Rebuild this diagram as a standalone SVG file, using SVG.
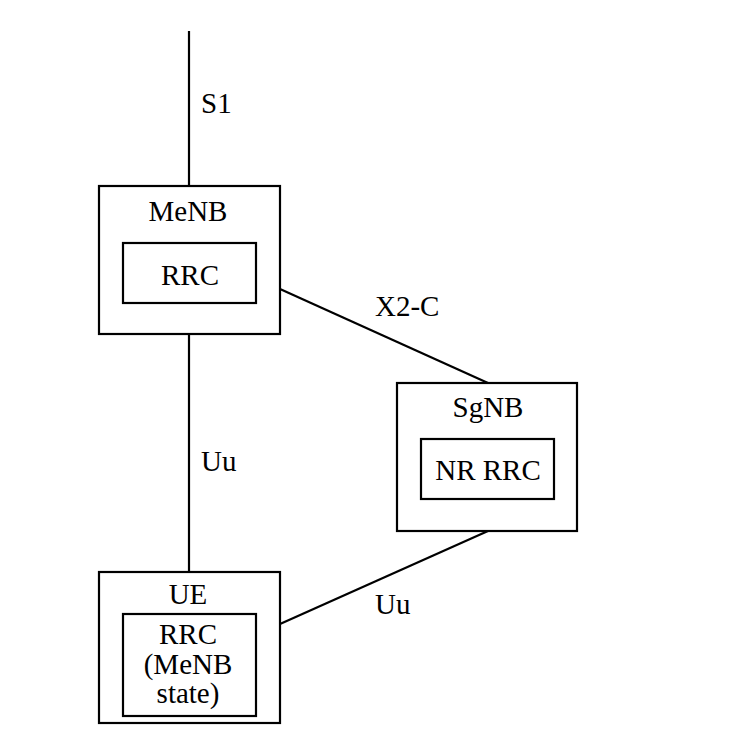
<svg xmlns="http://www.w3.org/2000/svg" width="733" height="746" viewBox="0 0 733 746">
<style>
.box{fill:none;stroke:#000;stroke-width:2.2}
.ln{stroke:#000;stroke-width:2.2;fill:none}
text{font-family:"Liberation Serif","Times New Roman",serif;font-size:29px;fill:#000}
.c{text-anchor:middle}
</style>
<rect width="733" height="746" fill="#fff"/>
<g id="connectors">
<line class="ln" x1="189" y1="31" x2="189" y2="186"/>
<line class="ln" x1="189" y1="334" x2="189" y2="572"/>
<line class="ln" x1="280" y1="289" x2="488" y2="383"/>
<line class="ln" x1="488" y1="531" x2="280" y2="624"/>
<text x="201" y="113">S1</text>
<text x="375" y="316">X2-C</text>
<text x="201" y="471">Uu</text>
<text x="375" y="614">Uu</text>
</g>
<g id="MeNB">
<rect class="box" x="99" y="186" width="181" height="148"/>
<text class="c" x="188" y="221">MeNB</text>
<rect class="box" x="123" y="243" width="133" height="60"/>
<text class="c" x="190" y="285">RRC</text>
</g>
<g id="SgNB">
<rect class="box" x="397" y="383" width="180" height="148"/>
<text class="c" x="488" y="417">SgNB</text>
<rect class="box" x="421" y="439" width="133" height="60"/>
<text class="c" x="488" y="480">NR RRC</text>
</g>
<g id="UE">
<rect class="box" x="99" y="572" width="181" height="151"/>
<text class="c" x="188" y="604">UE</text>
<rect class="box" x="123" y="614" width="133" height="102"/>
<text class="c" x="188" y="644">RRC</text>
<text class="c" x="188" y="674">(MeNB</text>
<text class="c" x="188" y="703">state)</text>
</g>
</svg>
